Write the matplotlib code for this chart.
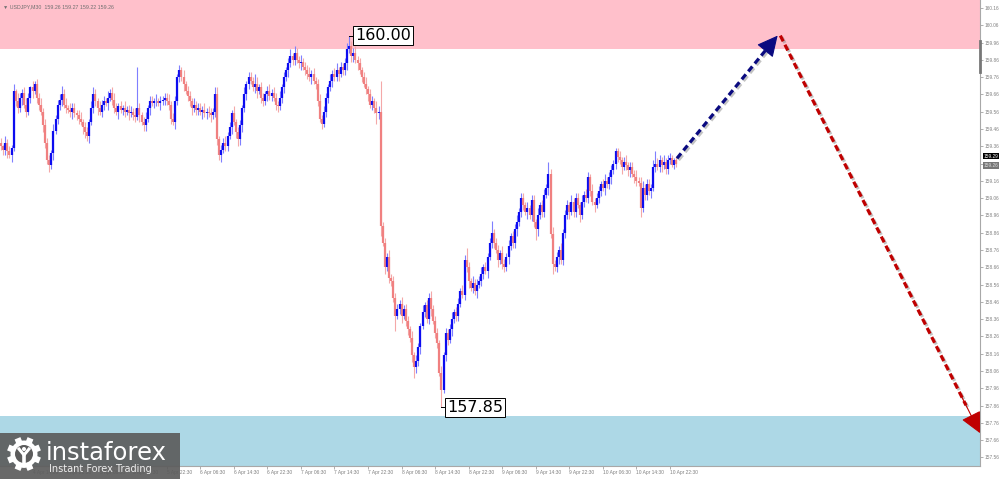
"""USDJPY M30 chart with forecast arrows and target zones."""
import matplotlib
matplotlib.use("Agg")
import matplotlib.pyplot as plt
import matplotlib.patheffects as pe
import numpy as np

symbol = "USDJPY,M30"
last_ohlc = [159.26, 159.27, 159.22, 159.26]
ask_price = 159.29
bid_price = 159.26

first_open = 159.38
closes = [
    159.36, 159.34, 159.38, 159.33, 159.31, 159.35, 159.68, 159.62, 159.58, 159.64,
    159.67, 159.60, 159.56, 159.64, 159.70, 159.68, 159.72, 159.64, 159.60, 159.56,
    159.48, 159.38, 159.28, 159.25, 159.32, 159.45, 159.52, 159.60, 159.63, 159.66,
    159.60, 159.58, 159.57, 159.56, 159.58, 159.55, 159.54, 159.52, 159.50, 159.47,
    159.44, 159.42, 159.50, 159.58, 159.66, 159.62, 159.58, 159.56, 159.60, 159.62,
    159.61, 159.64, 159.67, 159.63, 159.58, 159.56, 159.59, 159.57, 159.58, 159.56,
    159.57, 159.55, 159.56, 159.54, 159.53, 159.58, 159.54, 159.50, 159.48, 159.52,
    159.58, 159.62, 159.61, 159.62, 159.62, 159.61, 159.62, 159.63, 159.64, 159.62,
    159.60, 159.52, 159.50, 159.62, 159.76, 159.80, 159.76, 159.72, 159.68, 159.65,
    159.62, 159.58, 159.60, 159.57, 159.58, 159.56, 159.57, 159.55, 159.56, 159.55,
    159.54, 159.56, 159.66, 159.40, 159.31, 159.34, 159.38, 159.36, 159.42, 159.47,
    159.55, 159.50, 159.44, 159.40, 159.48, 159.58, 159.66, 159.72, 159.76, 159.74,
    159.70, 159.72, 159.68, 159.70, 159.64, 159.62, 159.66, 159.68, 159.65, 159.67,
    159.64, 159.60, 159.59, 159.64, 159.70, 159.76, 159.80, 159.84, 159.88, 159.86,
    159.90, 159.86, 159.84, 159.85, 159.82, 159.80, 159.78, 159.76, 159.78, 159.74,
    159.72, 159.62, 159.52, 159.49, 159.56, 159.64, 159.70, 159.74, 159.78, 159.76,
    159.80, 159.78, 159.82, 159.80, 159.84, 159.92, 159.94, 159.88, 159.90, 159.86,
    159.84, 159.80, 159.76, 159.72, 159.69, 159.66, 159.60, 159.62, 159.58, 159.55,
    159.56, 158.90, 158.80, 158.66, 158.72, 158.60, 158.58, 158.48, 158.38, 158.42,
    158.45, 158.38, 158.42, 158.35, 158.30, 158.25, 158.15, 158.08, 158.12, 158.20,
    158.32, 158.40, 158.44, 158.36, 158.48, 158.42, 158.35, 158.28, 158.22, 158.05,
    157.95, 158.15, 158.28, 158.24, 158.30, 158.36, 158.40, 158.38, 158.45, 158.52,
    158.50, 158.70, 158.66, 158.58, 158.54, 158.57, 158.52, 158.56, 158.58, 158.62,
    158.66, 158.64, 158.72, 158.80, 158.86, 158.80, 158.76, 158.70, 158.74, 158.68,
    158.66, 158.72, 158.78, 158.84, 158.80, 158.88, 158.92, 158.98, 159.06, 159.02,
    158.98, 159.00, 158.96, 159.05, 158.92, 158.88, 158.96, 159.02, 158.98, 159.08,
    159.12, 159.20, 158.85, 158.68, 158.66, 158.72, 158.76, 158.70, 158.86, 158.96,
    159.02, 158.98, 159.04, 158.98, 159.06, 159.02, 158.96, 159.04, 159.08, 159.06,
    159.18, 159.10, 159.04, 159.02, 159.06, 159.10, 159.14, 159.12, 159.16, 159.14,
    159.18, 159.22, 159.26, 159.33, 159.30, 159.28, 159.24, 159.27, 159.25, 159.22,
    159.24, 159.20, 159.18, 159.16, 159.15, 159.00, 159.12, 159.08, 159.14, 159.10,
    159.12, 159.24, 159.26, 159.24, 159.28, 159.25, 159.27, 159.23, 159.28, 159.29,
    159.25, 159.28, 159.26,
]

# wick lengths in pips, one digit per bar
wick_up_rows = [
    "31423 24153 23431 42334", "24332 42332 34243 32342",
    "33242 32433 24234 32324", "23324 23234 23324 23233",
    "42332 32423 32423 32423", "32342 33423 24233 24233",
    "23423 32342 33242 32342", "33242 33423 23423 32423",
    "42323 42334 23234 23324", "34232 42333 24233 24232",
    "24233 42332 42323 42332", "43232 42334 23234 23324",
    "32423 34233 24233 24233", "23342 32423 32423 32423",
    "32423 32342 33242 32342", "33242 34233 24233 24233",
    "212",
]
wick_dn_rows = [
    "23342 42332 42323 42332", "43232 42334 23234 23324",
    "32423 34233 24233 24233", "24233 24233 24233 24232",
    "33242 32423 34233 24232", "42332 42332 42323 42332",
    "23423 32423 23423 32423", "32342 33242 33242 33242",
    "24233 42332 42323 42332", "33242 33242 34233 24233",
    "42323 42332 42332 42332", "23342 32423 32423 32423",
    "32423 34233 24233 24233", "24232 34233 24233 24232",
    "33242 33242 34233 24233", "42332 42332 42323 42332",
    "122",
]
high_spikes = {16: 159.74, 29: 159.71, 44: 159.70, 65: 159.82, 85: 159.83,
               102: 159.70, 121: 159.78, 140: 159.94, 166: 160.00, 181: 159.74,
               222: 158.77, 234: 158.93, 261: 159.27, 293: 159.35, 312: 159.33}
low_spikes = {23: 159.21, 41: 159.39, 68: 159.45, 104: 159.28, 113: 159.36,
              132: 159.56, 153: 159.46, 179: 159.49, 181: 158.84, 188: 158.29,
              197: 158.02, 210: 157.85, 240: 158.63, 255: 158.82, 263: 158.62,
              305: 158.95}

tick_bars = [15 + 16 * k for k in range(20)]
tick_labels = ["4 Apr 14:30", "4 Apr 22:30", "5 Apr 06:30", "5 Apr 14:30",
               "5 Apr 22:30", "6 Apr 06:30", "6 Apr 14:30", "6 Apr 22:30",
               "7 Apr 06:30", "7 Apr 14:30", "7 Apr 22:30", "8 Apr 06:30",
               "8 Apr 14:30", "8 Apr 22:30", "9 Apr 06:30", "9 Apr 14:30",
               "9 Apr 22:30", "10 Apr 06:30", "10 Apr 14:30", "10 Apr 22:30"]
price_ticks = [round(157.56 + 0.1 * k, 2) for k in range(27)]

sell_zone = (159.92, 160.40)
buy_zone = (157.30, 157.80)

# forecast path: up to the resistance, then down to the support
up_leg_bar = [322.3, 370.3]
up_leg_price = [159.29, 160.00]
down_leg_bar = [371.6, 466.8]
down_leg_price = [160.00, 157.70]

SMALL_FONT = "Liberation Sans"


def wicks(rows):
    s = "".join(rows).replace(" ", "")
    return np.array([int(ch) for ch in s]) * 0.01


def draw_leg(ax, xs, ys, color):
    shadow = [pe.SimpleLineShadow(offset=(1.2, -1.2), shadow_color="#888888", alpha=0.5),
              pe.Normal()]
    # stop the dashed line a bit before the tip, the head covers the rest
    t = 0.93
    xe = xs[0] + (xs[1] - xs[0]) * t
    ye = ys[0] + (ys[1] - ys[0]) * t
    ax.plot([xs[0], xe], [ys[0], ye], color=color, lw=2.3,
            linestyle=(0, (2.0, 1.2)), solid_capstyle="butt",
            path_effects=shadow, zorder=6, clip_on=False)
    tb = 0.90
    xb = xs[0] + (xs[1] - xs[0]) * tb
    yb = ys[0] + (ys[1] - ys[0]) * tb
    ax.annotate("", xy=(xs[1], ys[1]), xytext=(xb, yb),
                arrowprops=dict(arrowstyle="-|>,head_length=1.0,head_width=0.5",
                                color=color, lw=0.8, mutation_scale=13,
                                shrinkA=0, shrinkB=0),
                zorder=7, annotation_clip=False)


def main():
    n = len(closes)
    x = np.arange(n)
    c = np.array(closes)
    o = np.concatenate([[first_open], c[:-1]])
    top = np.maximum(o, c)
    bot = np.minimum(o, c)
    hi = top + wicks(wick_up_rows)[:n]
    lo = bot - wicks(wick_dn_rows)[:n]
    for i, v in high_spikes.items():
        hi[i] = max(v, top[i])
    for i, v in low_spikes.items():
        lo[i] = min(v, bot[i])

    fig = plt.figure(figsize=(10, 4.79), dpi=100)
    ax = fig.add_axes([0, 13 / 479, 0.98, 466 / 479])
    ax.set_xlim(-0.5, 466.8)
    ax.set_ylim(157.51, 160.206)

    ax.axhspan(*sell_zone, color="pink", zorder=0, lw=0)
    ax.axhspan(*buy_zone, color="lightblue", zorder=0, lw=0)

    bull = c >= o
    wick_col = np.where(bull, "#7f7fff", "#f4a8a8")
    body_col = np.where(bull, "#0c0cf0", "#f08080")
    ax.vlines(x, lo, hi, colors=wick_col, lw=0.8, zorder=2)
    body_top = np.maximum(top, bot + 0.004)
    ax.vlines(x, bot, body_top, colors=body_col, lw=1.6, zorder=3)

    # extreme labels
    imax = int(np.argmax(hi))
    imin = int(np.argmin(lo))
    for i, v in ((imax, hi[imax]), (imin, lo[imin])):
        ax.plot([i, i + 2.2], [v, v], color="black", lw=0.7, zorder=4)
        ax.text(i + 2.7, v, f"{v:.2f}", fontsize=11.5, ha="left", va="center",
                color="black", zorder=5,
                bbox=dict(boxstyle="square,pad=0.12", fc="white", ec="black", lw=0.7))

    draw_leg(ax, up_leg_bar, up_leg_price, "#0a0a80")
    draw_leg(ax, down_leg_bar, down_leg_price, "#c00000")

    # axes styling
    for side in ("top", "left"):
        ax.spines[side].set_visible(False)
    for side in ("right", "bottom"):
        ax.spines[side].set_color("#a8a8a8")
        ax.spines[side].set_linewidth(0.8)
    ax.yaxis.tick_right()
    ax.set_yticks(price_ticks)
    ax.set_yticklabels([f"{p:.2f}" for p in price_ticks], fontfamily=SMALL_FONT)
    ax.tick_params(axis="y", length=2, width=0.5, colors="#909090",
                   labelsize=3.4, labelcolor="#808080", pad=1.2)
    ax.set_xticks(tick_bars)
    ax.set_xticklabels(tick_labels, fontfamily=SMALL_FONT)
    ax.tick_params(axis="x", length=2, width=0.5, colors="#909090",
                   labelsize=3.5, labelcolor="#808080", pad=1)
    for lab in ax.get_xticklabels():
        lab.set_ha("left")

    yt = ax.get_yaxis_transform()
    ax.plot([1, 1], [159.97, 159.79], transform=yt, color="#777777", lw=2,
            clip_on=False, zorder=8)
    ax.text(1.004, ask_price + 0.012, f"{ask_price:.2f}", transform=yt, fontsize=3.4,
            family=SMALL_FONT, color="white", va="center", ha="left",
            bbox=dict(boxstyle="square,pad=0.15", fc="black", ec="none"))
    ax.text(1.004, bid_price - 0.012, f"{bid_price:.2f}", transform=yt, fontsize=3.4,
            family=SMALL_FONT, color="#dddddd", va="center", ha="left",
            bbox=dict(boxstyle="square,pad=0.15", fc="#777777", ec="none"))

    title = "\u25bc " + symbol + "  " + " ".join(f"{v:.2f}" for v in last_ohlc)
    fig.text(0.003, 0.991, title, fontsize=3.8, family=["Liberation Sans", "DejaVu Sans"],
             color="#707070", va="top", ha="left")

    # instaforex badge
    lg = fig.add_axes([0, 0, 0.18, 46 / 479])
    lg.set_xlim(0, 180)
    lg.set_ylim(0, 46)
    lg.axis("off")
    lg.add_patch(plt.Rectangle((0, 0), 180, 46, fc="#5c5c5c", alpha=0.92, ec="none"))
    cx, cy = 24, 25
    for a in np.linspace(0, 2 * np.pi, 9)[:-1] + np.pi / 8:
        lg.plot([cx + 11 * np.cos(a), cx + 17 * np.cos(a)],
                [cy + 11 * np.sin(a), cy + 17 * np.sin(a)],
                color="white", lw=4.5, solid_capstyle="butt")
    lg.add_patch(plt.Circle((cx, cy), 13.5, fc="white", ec="none"))
    lg.add_patch(plt.Circle((cx, cy), 9, fc="#5c5c5c", ec="none"))
    lg.plot([cx - 5, cx, cx + 5], [cy + 5, cy - 1, cy + 5], color="white", lw=2.2)
    lg.plot([cx, cx], [cy - 1, cy - 12], color="white", lw=2.6)
    lg.add_patch(plt.Circle((cx, cy + 5), 2, fc="white", ec="none"))
    lg.text(46, 26, "instaforex", fontsize=17.5, color="white", ha="left", va="center")
    lg.text(49, 9.5, "Instant Forex Trading", fontsize=7, color="#eeeeee",
            ha="left", va="center")

    fig.savefig("out.png", dpi=100)


if __name__ == "__main__":
    main()
